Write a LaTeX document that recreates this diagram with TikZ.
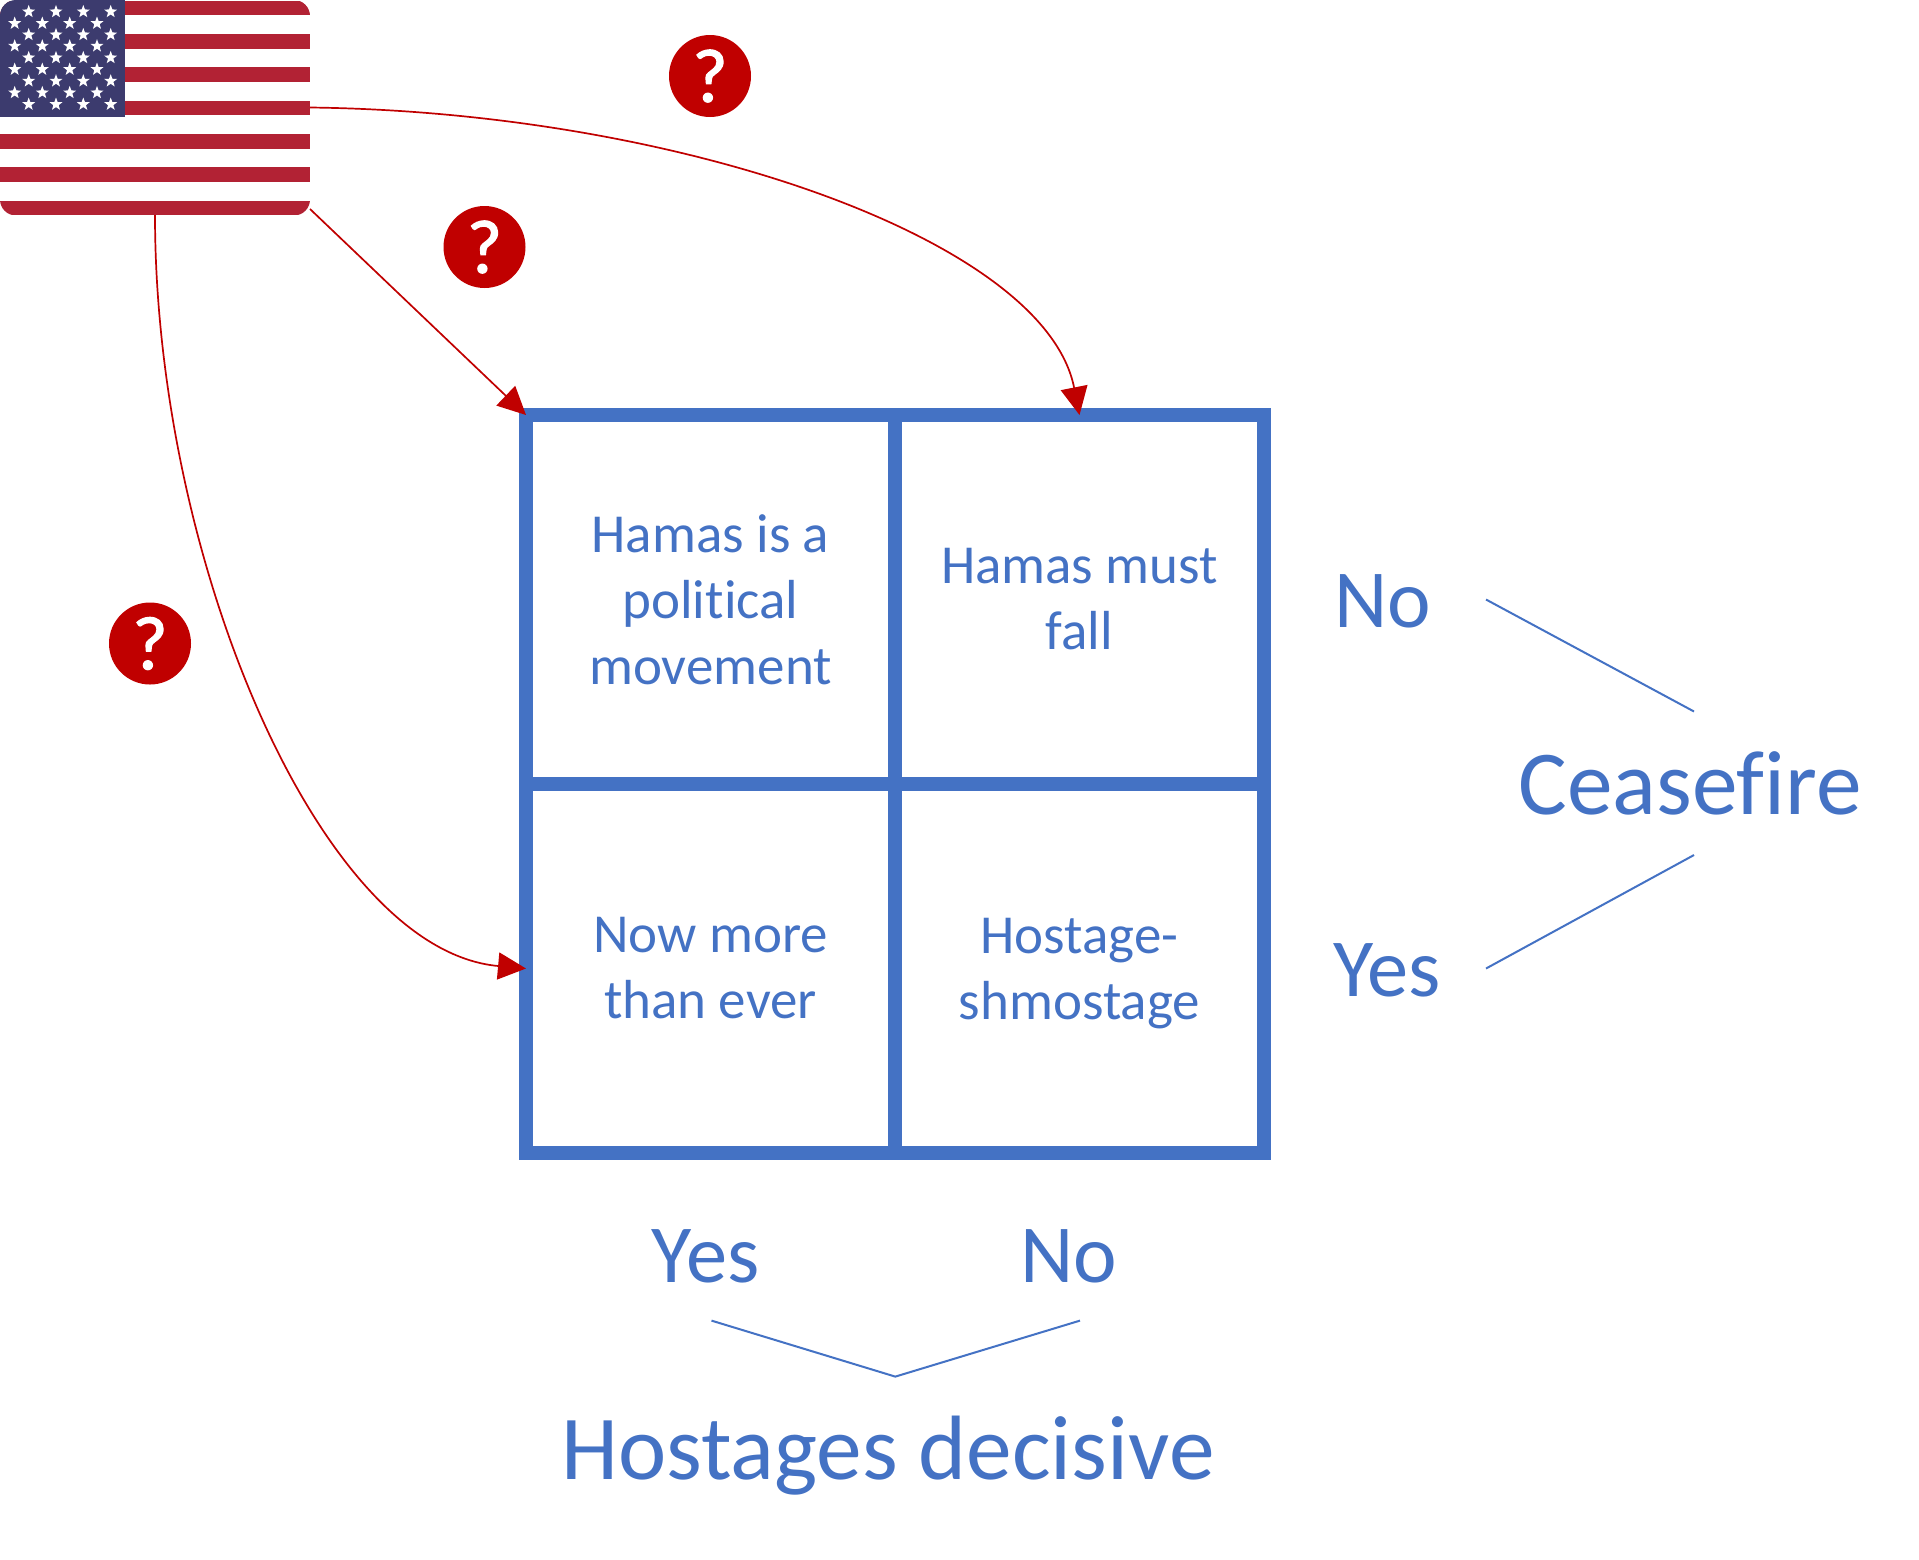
\documentclass[tikz,border=0pt]{standalone}
\usepackage{fontspec}
\setmainfont[Ligatures=CommonOff]{Carlito}
\newfontfamily\qfont[FakeBold=1.6]{Carlito}
\usetikzlibrary{arrows.meta,calc}
\definecolor{gridblue}{HTML}{4472C4}
\definecolor{qred}{HTML}{C00000}
\definecolor{flagred}{HTML}{B22234}
\definecolor{flagblue}{HTML}{3C3B6E}
\tikzset{
  cellbox/.style={draw=gridblue,line width=14pt,minimum width=369pt,minimum height=369pt,outer sep=0pt,inner sep=0pt,text=gridblue,align=center,font=\fontsize{55}{66}\selectfont},
  biglabel/.style={text=gridblue,inner sep=0pt,font=\fontsize{91.4}{110}\selectfont},
  midlabel/.style={text=gridblue,inner sep=0pt,font=\fontsize{82.5}{99}\selectfont},
  thinline/.style={draw=gridblue,line width=2pt},
  redarrow/.style={draw=qred,line width=1.7pt,-{Triangle[length=28pt,width=27pt]}},
  qmark/.style={circle,fill=qred,minimum size=82pt,inner sep=0pt,text=white,font=\qfont\fontsize{76}{76}\selectfont},
  flagbox/.style={minimum width=310pt,minimum height=215pt,inner sep=0pt,outer sep=0pt}
}
\begin{document}
\begin{tikzpicture}[x=1pt,y=-1pt]
\useasboundingbox (0,0) rectangle (1919,1559);
% flag
\begin{scope}
\clip[rounded corners=16pt] (0,0) rectangle (310,215.5);
\fill[white] (0,0) rectangle (310,216);
\foreach \i in {0,...,6}{
  \fill[flagred] (0,{\i*33.33+0.7}) rectangle (310,{\i*33.33+15.3});
}
\fill[flagblue] (0,0) rectangle (125,116.5);
\foreach \yy in {11.7,34.7,57.7,81,104.3}{
  \foreach \xx in {28.7,56,83.3,110.7}{
    \fill[white] (\xx,\yy) ++(-90:6.8) -- ++(0,0)
      \foreach \k in {1,...,9}{ -- ($(\xx,\yy)+({-90+36*\k}:{mod(\k,2)==1 ? 2.8 : 6.8})$) } -- cycle;
  }
}
\foreach \yy in {23.3,46,69.3,92.7}{
  \foreach \xx in {14.7,42.3,69.7,97}{
    \fill[white] (\xx,\yy) ++(-90:6.8) -- ++(0,0)
      \foreach \k in {1,...,9}{ -- ($(\xx,\yy)+({-90+36*\k}:{mod(\k,2)==1 ? 2.8 : 6.8})$) } -- cycle;
  }
}
\end{scope}
\node[flagbox] (flag) at (155,107.5) {};
\coordinate (flagcorner) at (310,209);
% grid
\node[cellbox] (a) at (710.5,599.5) {Hamas is a\\political\\movement};
\node[cellbox] (b) at (1079.5,599.5) {Hamas must\\fall};
\node[cellbox] (c) at (710.5,968.5) {Now more\\than ever};
\node[cellbox] (d) at (1079.5,968.5) {Hostage-\\\smash{shmostage}};
% connectors
\draw[redarrow] (flagcorner) -- (a.north west);
\draw[redarrow] (flag.east) .. controls (680,112) and (1045,240) .. (b.north);
\draw[redarrow] (flag.south) .. controls (155,560) and (320,950) .. (c.west);
% question marks
\node[qmark] (q1) at (710,76) {?};
\node[qmark] (q2) at (484.5,247) {?};
\node[qmark] (q3) at (150,643.5) {?};
% right labels
\node[midlabel] (no1) at (1382.6,601.5) {No};
\node[midlabel] (yes1) at (1387,970) {Yes};
\node[biglabel] (cease) at (1690,783) {Ceasefire};
\coordinate (ln1) at (1486,599.5);
\coordinate (lc1) at (1694,711.5);
\coordinate (ln2) at (1486,968.5);
\coordinate (lc2) at (1694,855);
\draw[thinline] (ln1) -- (lc1);
\draw[thinline] (ln2) -- (lc2);
% bottom labels
\node[midlabel] (yes2) at (705.5,1256) {Yes};
\node[midlabel] (no2) at (1069,1256) {No};
\node[biglabel] (host) at (888,1455.5) {Hostages decisive};
\coordinate (b1) at (711.5,1320.6);
\coordinate (b2) at (895.3,1376.6);
\coordinate (b3) at (1080,1320.6);
\draw[thinline] (b1) -- (b2) -- (b3);
\end{tikzpicture}
\end{document}
